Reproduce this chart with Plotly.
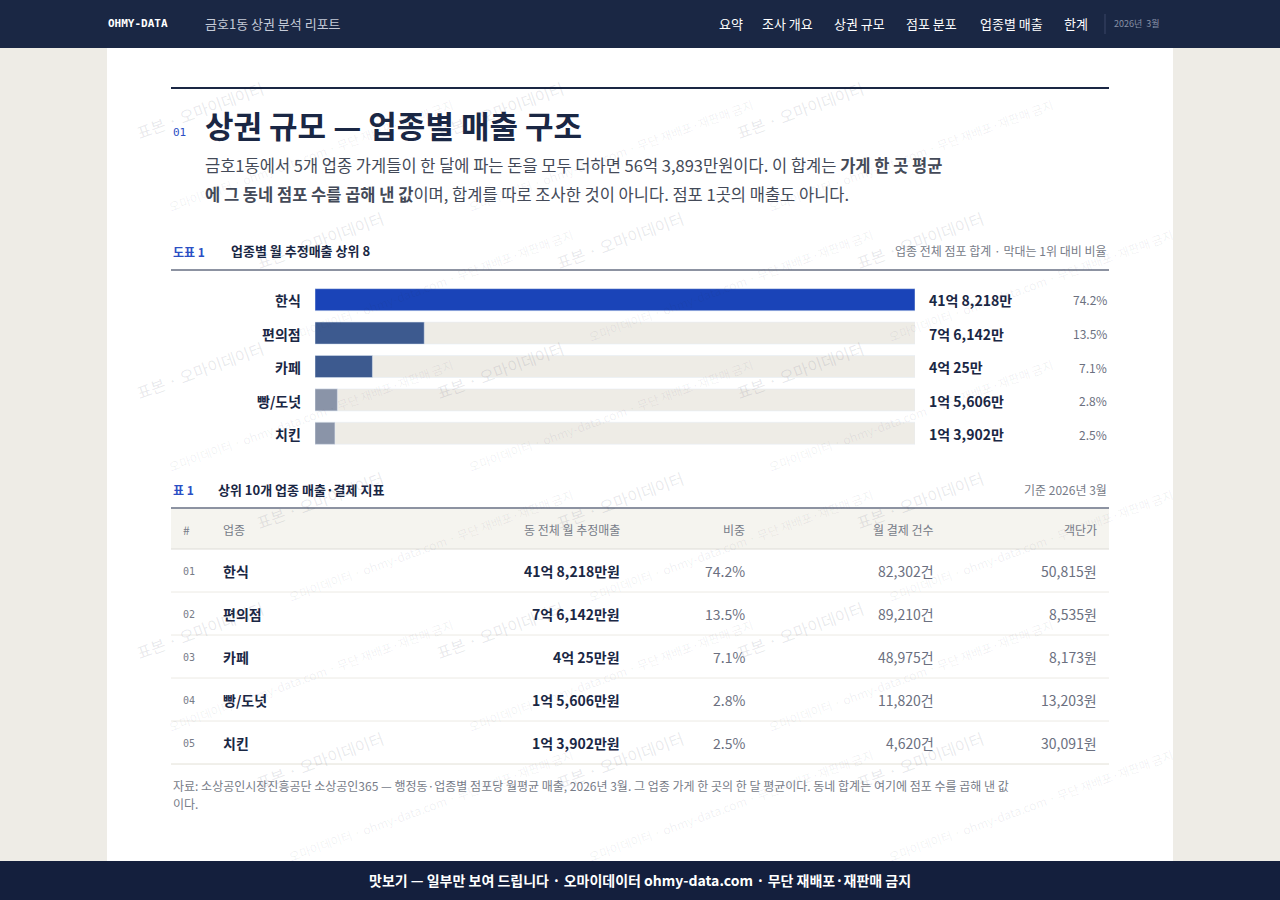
import plotly.graph_objects as go

W, H = 1280, 900
def px(x): return x / W
def py(y): return 1 - y / H

# ---- data ----
categories = ["한식", "편의점", "카페", "빵/도넛", "치킨"]
sales = [418218, 76142, 40025, 15606, 13902]  # 만원
sales_label = ["41억 8,218만", "7억 6,142만", "4억 25만", "1억 5,606만", "1억 3,902만"]
share = ["74.2%", "13.5%", "7.1%", "2.8%", "2.5%"]
tx_count = ["82,302건", "89,210건", "48,975건", "11,820건", "4,620건"]
avg_price = ["50,815원", "8,535원", "8,173원", "13,203원", "30,091원"]
row_no = ["01", "02", "03", "04", "05"]
bar_colors = ["#1a44b8", "#3d5a8f", "#3d5a8f", "#8a94a8", "#8a94a8"]
nav_items = ["요약", "조사 개요", "상권 규모", "점포 분포", "업종별 매출", "한계"]

FONT = "Noto Sans CJK KR"
NAVY = "#1a2744"
fig = go.Figure()

maxv = max(sales)
fig.add_trace(go.Bar(y=categories, x=[maxv] * len(categories), orientation="h",
                     marker=dict(color="#eeece6"), hoverinfo="skip", showlegend=False, width=0.66))
fig.add_trace(go.Bar(y=categories, x=sales, orientation="h",
                     marker=dict(color=bar_colors), showlegend=False, width=0.66))

fig.update_layout(
    width=W, height=H, margin=dict(l=0, r=0, t=0, b=0),
    paper_bgcolor="#eeece6", plot_bgcolor="rgba(0,0,0,0)", barmode="overlay",
    font=dict(family=FONT, color=NAVY),
    xaxis=dict(domain=[px(315), px(915)], range=[0, maxv], visible=False, fixedrange=True),
    yaxis=dict(domain=[py(450), py(283)], autorange="reversed", visible=False, fixedrange=True),
)

shapes = []
def rect(x0, y0, x1, y1, color):
    shapes.append(dict(type="rect", xref="paper", yref="paper", x0=px(x0), x1=px(x1),
                       y0=py(y1), y1=py(y0), fillcolor=color, line=dict(width=0), layer="below"))
def hline(x0, x1, y, color, w=1):
    shapes.append(dict(type="line", xref="paper", yref="paper", x0=px(x0), x1=px(x1),
                       y0=py(y), y1=py(y), line=dict(color=color, width=w)))

rect(107, 48, 1173, 861, "white")
rect(0, 0, 1280, 48, NAVY)
rect(0, 861, 1280, 900, "#141f3d")
hline(171, 1109, 88, NAVY, 2)
hline(171, 1109, 270, NAVY, 1)
hline(171, 1109, 508, NAVY, 1)
rect(171, 509, 1109, 549, "#f5f4ef")
hline(171, 1109, 549, "#dddcd6", 1)
for i in range(5):
    hline(171, 1109, 592 + i * 43, "#eceae4", 1)
shapes.append(dict(type="line", xref="paper", yref="paper", x0=px(1105), x1=px(1105),
                   y0=py(14), y1=py(34), line=dict(color="#3a4766", width=1)))

ann = []
def txt(x, y, s, size=13, color=NAVY, anchor="left", weight=None, family=FONT, angle=0):
    ann.append(dict(xref="paper", yref="paper", x=px(x), y=py(y), text=s, showarrow=False,
                    xanchor=anchor, yanchor="middle", textangle=angle,
                    font=dict(size=size, color=color, family=family, weight=weight)))

# watermarks (kept inside the card)
for r in range(6):
    for c in range(4):
        x = 200 + c * 300 + (r % 2) * 120
        y = 110 + r * 130
        if x > 1080:
            continue
        txt(x, y, "표본 · 오마이데이터", 16, "rgba(30,40,70,0.10)", "center", angle=-20)
        if x + 110 < 1050:
            txt(x + 110, y + 45, "오마이데이터 · ohmy-data.com · 무단 재배포·재판매 금지", 12,
                "rgba(30,40,70,0.07)", "center", angle=-20)

# header
txt(106, 24, "<b>OHMY-DATA</b>", 11, "white", family="DejaVu Sans Mono")
txt(203, 23, "금호1동 상권 분석 리포트", 13, "#c5cbd8")
nav_x = [717, 760, 832, 904, 978, 1062]
for x, s in zip(nav_x, nav_items):
    txt(x, 23, s, 13, "white")
txt(1112, 23, "2026년  3월", 9, "#8790a6")

# title
txt(171, 132, "01", 11, "#2b4fc4", family="DejaVu Sans Mono")
txt(203, 124, "<b>상권 규모 — 업종별 매출 구조</b>", 31, NAVY)
txt(203, 165, "금호1동에서 5개 업종 가게들이 한 달에 파는 돈을 모두 더하면 56억 3,893만원이다. 이 합계는 <b>가게 한 곳 평균</b>", 16.5, "#444a58")
txt(203, 194, "<b>에 그 동네 점포 수를 곱해 낸 값</b>이며, 합계를 따로 조사한 것이 아니다. 점포 1곳의 매출도 아니다.", 16.5, "#444a58")

# figure caption
txt(171, 251, "<b>도표 1</b>", 12, "#2b4fc4")
txt(229, 250, "<b>업종별 월 추정매출 상위 8</b>", 13, NAVY)
txt(1109, 250, "업종 전체 점포 합계 · 막대는 1위 대비 비율", 12, "#777c88", "right")

for i, cat in enumerate(categories):
    y = 300 + i * 33.5
    txt(303, y, "<b>" + cat + "</b>", 14, NAVY, "right")
    txt(927, y, "<b>" + sales_label[i] + "</b>", 14, NAVY)
    txt(1109, y, share[i], 12, "#6b7080", "right")

# table caption
txt(171, 489, "<b>표 1</b>", 12, "#2b4fc4")
txt(216, 489, "<b>상위 10개 업종 매출·결제 지표</b>", 13, NAVY)
txt(1109, 489, "기준 2026년 3월", 12, "#777c88", "right")

hdr_y = 529
txt(181, hdr_y, "#", 12, "#777c88")
txt(221, hdr_y, "업종", 12, "#777c88")
txt(622, hdr_y, "동 전체 월 추정매출", 12, "#777c88", "right")
txt(747, hdr_y, "비중", 12, "#777c88", "right")
txt(936, hdr_y, "월 결제 건수", 12, "#777c88", "right")
txt(1099, hdr_y, "객단가", 12, "#777c88", "right")
for i in range(5):
    y = 571 + i * 43
    txt(181, y, row_no[i], 10, "#777c88", family="DejaVu Sans Mono")
    txt(221, y, "<b>" + categories[i] + "</b>", 14, NAVY)
    txt(622, y, "<b>" + sales_label[i] + "원</b>", 14, NAVY, "right")
    txt(747, y, share[i], 14, "#6b7080", "right")
    txt(936, y, tx_count[i], 14, "#6b7080", "right")
    txt(1099, y, avg_price[i], 14, "#6b7080", "right")

txt(171, 785, "자료: 소상공인시장진흥공단 소상공인365 — 행정동·업종별 점포당 월평균 매출, 2026년 3월. 그 업종 가게 한 곳의 한 달 평균이다. 동네 합계는 여기에 점포 수를 곱해 낸 값", 12, "#777c88")
txt(171, 803, "이다.", 12, "#777c88")
hline(171, 1109, 764, "#eceae4", 1)

txt(640, 880, "<b>맛보기 — 일부만 보여 드립니다 · 오마이데이터 ohmy-data.com · 무단 재배포·재판매 금지</b>", 14, "white", "center")

fig.update_layout(shapes=shapes, annotations=ann)
fig.write_html("out.html", config={"displayModeBar": False},
               post_script="document.body.style.margin='0';document.body.style.overflow='hidden';")
